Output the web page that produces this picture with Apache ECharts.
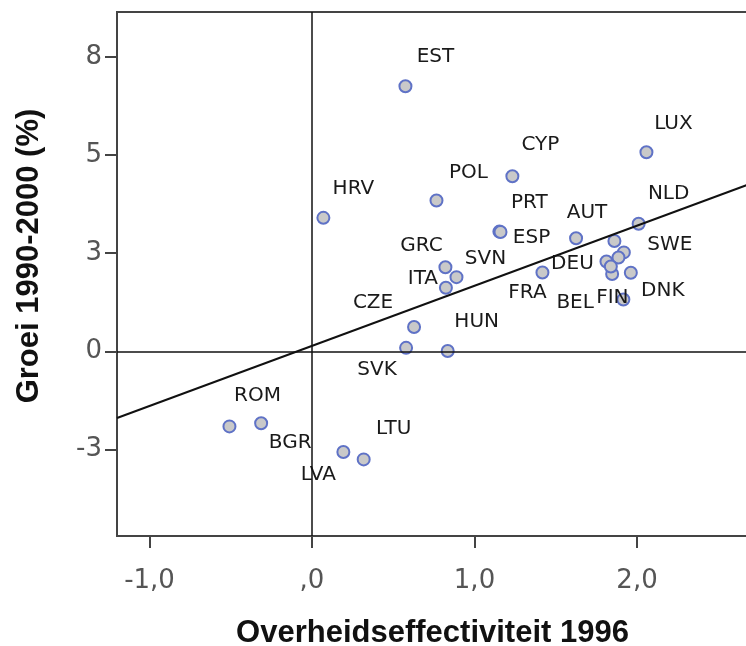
<!DOCTYPE html>
<html>
<head>
<meta charset="utf-8">
<script src="https://cdn.jsdelivr.net/npm/echarts@6/dist/echarts.min.js"></script>
<style>
  html, body { margin: 0; padding: 0; background: #fff; }
  #main { width: 746px; height: 646px; }
</style>
</head>
<body>
<div id="main"></div>
<script>
var chartDom = document.getElementById('main');
var myChart = echarts.init(chartDom);
var option;

// landen (EU + HRV)
var countries = ['EST', 'LUX', 'CYP', 'POL', 'HRV', 'PRT', 'ESP', 'AUT', 'NLD', 'SWE',
    'DEU', 'BEL', 'FIN', 'DNK', 'GBR', 'IRL', 'MLT', 'FRA', 'GRC', 'SVN',
    'ITA', 'CZE', 'SVK', 'HUN', 'ROM', 'BGR', 'LVA', 'LTU'];
// overheidseffectiviteit 1996
var effectiveness = [0.575, 2.058, 1.233, 0.766, 0.070, 1.153, 1.160, 1.625, 2.010, 1.919,
    1.812, 1.847, 1.916, 1.962, 1.861, 1.886, 1.839, 1.418, 0.821, 0.889,
    0.824, 0.628, 0.579, 0.835, -0.508, -0.313, 0.193, 0.318];
// groei 1990-2000 (%)
var growth = [6.75, 5.07, 4.46, 3.84, 3.40, 3.05, 3.04, 2.88, 3.25, 2.52,
    2.29, 1.97, 1.32, 2.00, 2.81, 2.39, 2.16, 2.01, 2.14, 1.89,
    1.62, 0.62, 0.09, 0.01, -1.91, -1.83, -2.56, -2.75];

var fitIntercept = 0.14;
var fitSlope = 1.53;

var xTicks = [-1, 0, 1, 2];
var xTickLabels = ['-1,0', ',0', '1,0', '2,0'];
var yTicks = [-2.5, 0, 2.5, 5, 7.5];
var yTickLabels = ['-3', '0', '3', '5', '8'];

var xMin = -1.2, xMax = 2.683;
var yMin = -4.70, yMax = 8.64;

// label placement relative to the marker (px)
var labelShift = {
    EST: [30, -29], HRV: [30, -29], LUX: [27, -28], CYP: [28, -31], POL: [32, -28],
    PRT: [30, -29], ESP: [31, 6], AUT: [11, -25], NLD: [30, -30], SWE: [46, -8],
    DEU: [-34, 2], FRA: [-15, 20], BEL: [-37, 29], FIN: [-11, -2], DNK: [32, 18],
    GRC: [-24, -22], SVN: [29, -18], ITA: [-23, -9], CZE: [-41, -24], SVK: [-29, 22],
    HUN: [29, -29], ROM: [28, -31], BGR: [29, 20], LTU: [30, -31], LVA: [-25, 23]
};

var points = countries.map(function (c, i) {
    var shift = labelShift[c];
    return {
        name: c,
        value: [effectiveness[i], growth[i]],
        label: shift ? { show: true, offset: shift } : { show: false }
    };
});

option = {
    animation: false,
    backgroundColor: '#fff',
    grid: {
        left: 117,
        right: -2,
        top: 12,
        bottom: 110,
        outerBoundsMode: 'none',
        containLabel: false,
        show: true,
        borderColor: '#444',
        borderWidth: 2
    },
    xAxis: {
        type: 'value',
        min: xMin,
        max: xMax,
        name: 'Overheidseffectiviteit 1996',
        nameLocation: 'middle',
        nameGap: 82,
        nameTextStyle: {
            fontFamily: 'Liberation Sans',
            fontWeight: 'bold',
            fontSize: 31,
            color: '#111'
        },
        axisLine: { show: true, onZero: false, lineStyle: { color: '#444', width: 2 } },
        axisTick: {
            show: true,
            length: 12,
            customValues: xTicks,
            lineStyle: { color: '#444', width: 2 }
        },
        axisLabel: {
            customValues: xTicks,
            margin: 32,
            fontFamily: 'DejaVu Sans',
            fontSize: 26,
            color: '#555',
            formatter: function (v) {
                var k = xTicks.indexOf(Math.round(v * 1000) / 1000);
                return k >= 0 ? xTickLabels[k] : '';
            }
        },
        splitLine: { show: false }
    },
    yAxis: {
        type: 'value',
        min: yMin,
        max: yMax,
        name: 'Groei 1990-2000 (%)',
        nameLocation: 'middle',
        nameGap: 72,
        nameTextStyle: {
            fontFamily: 'Liberation Sans',
            fontWeight: 'bold',
            fontSize: 31,
            color: '#111',
            padding: [0, 0, 0, 36]
        },
        axisLine: { show: true, onZero: false, lineStyle: { color: '#444', width: 2 } },
        axisTick: {
            show: true,
            length: 12,
            customValues: yTicks,
            lineStyle: { color: '#444', width: 2 }
        },
        axisLabel: {
            customValues: yTicks,
            margin: 15,
            fontFamily: 'DejaVu Sans',
            fontSize: 26,
            color: '#555',
            formatter: function (v) {
                var k = yTicks.indexOf(Math.round(v * 1000) / 1000);
                return k >= 0 ? yTickLabels[k] : '';
            }
        },
        splitLine: { show: false }
    },
    series: [
        {
            type: 'scatter',
            data: points,
            symbol: 'circle',
            symbolSize: 12,
            itemStyle: {
                color: '#c9c9c9',
                borderColor: '#5f72c6',
                borderWidth: 2,
                opacity: 1
            },
            label: {
                position: 'inside',
                formatter: '{b}',
                fontFamily: 'DejaVu Sans',
                fontSize: 20,
                color: '#1a1a1a'
            },
            markLine: {
                silent: true,
                symbol: 'none',
                label: { show: false },
                lineStyle: { color: '#111', width: 1.5, type: 'solid' },
                data: [{ xAxis: 0 }, { yAxis: 0 }]
            },
            z: 3
        },
        {
            type: 'line',
            data: [
                [xMin, fitIntercept + fitSlope * xMin],
                [xMax, fitIntercept + fitSlope * xMax]
            ],
            symbol: 'none',
            silent: true,
            lineStyle: { color: '#111', width: 2 },
            z: 4
        }
    ]
};

option && myChart.setOption(option);
</script>
</body>
</html>
